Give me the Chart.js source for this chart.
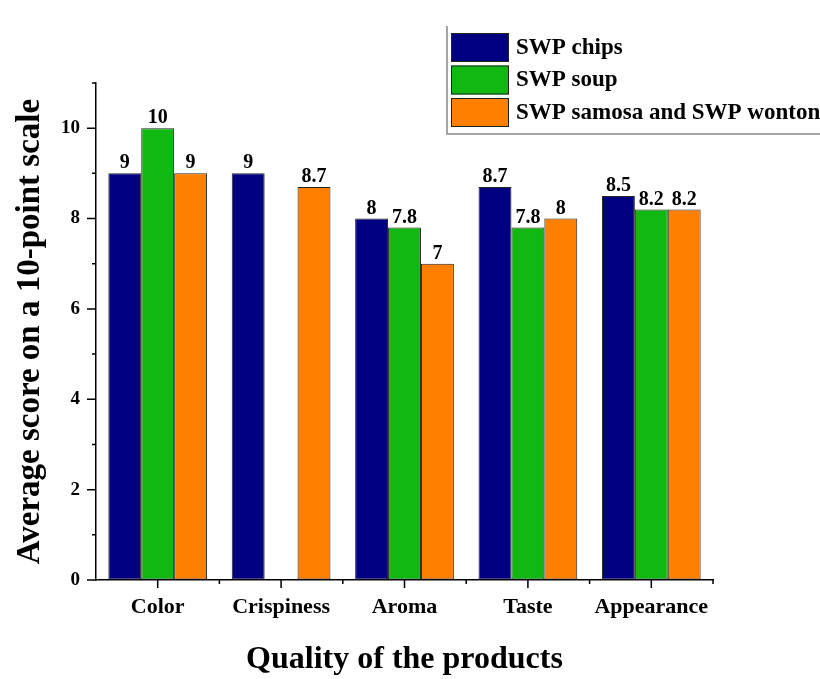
<!DOCTYPE html>
<html>
<head>
<meta charset="utf-8">
<script src="https://cdn.jsdelivr.net/npm/chart.js@4.4.0/dist/chart.umd.min.js"></script>
<style>
  html, body { margin: 0; padding: 0; background: #fff; }
  #wrap { width: 820px; height: 679px; }
</style>
</head>
<body>
<div id="wrap"><canvas id="qualityChart" width="820" height="679"></canvas></div>
<script>
var categories = ['Color', 'Crispiness', 'Aroma', 'Taste', 'Appearance'];
var chipsScores = [9, 9, 8, 8.7, 8.5];
var soupScores = [10, null, 7.8, 7.8, 8.2];
var samosaScores = [9, 8.7, 7, 8, 8.2];
var seriesNames = ['SWP chips', 'SWP soup', 'SWP samosa and SWP wonton'];
var yTicks = [0, 2, 4, 6, 8, 10];

var serif = "'Liberation Serif', 'Times New Roman', serif";
var colors = ['#000080', '#12b812', '#ff7f00'];

// value labels above each bar
var barLabels = {
	id: 'barLabels',
	afterDatasetsDraw: function(chart) {
		var ctx = chart.ctx;
		ctx.save();
		ctx.font = 'bold 20px ' + serif;
		ctx.fillStyle = '#000';
		ctx.textAlign = 'center';
		ctx.textBaseline = 'alphabetic';
		chart.data.datasets.forEach(function(ds, i) {
			var meta = chart.getDatasetMeta(i);
			meta.data.forEach(function(bar, j) {
				var v = ds.data[j];
				if (v === null) return;
				ctx.fillText(String(v), bar.x, bar.y - 5);
			});
		});
		ctx.restore();
	}
};

// axis ticks: long at majors, short at minors (outside)
var axisTicks = {
	id: 'axisTicks',
	afterDraw: function(chart) {
		var ctx = chart.ctx;
		var xs = chart.scales.x, ys = chart.scales.y;
		var left = chart.chartArea.left, bottom = chart.chartArea.bottom;
		ctx.save();
		ctx.strokeStyle = '#000';
		ctx.lineWidth = 1.5;
		ctx.beginPath();
		for (var v = 0; v <= 11; v++) {
			var py = ys.getPixelForValue(v);
			var len = (v % 2 === 0) ? 9 : 4;
			ctx.moveTo(left - len, py);
			ctx.lineTo(left, py);
		}
		for (var k = 0; k < categories.length; k++) {
			var px = xs.getPixelForValue(k);
			ctx.moveTo(px, bottom);
			ctx.lineTo(px, bottom + 8);
			var edge = xs.getPixelForValue(k + 0.5);
			ctx.moveTo(edge, bottom);
			ctx.lineTo(edge, bottom + 4);
		}
		ctx.stroke();
		ctx.restore();
	}
};

// legend box, partly cut at the right edge like the original
var boxLegend = {
	id: 'boxLegend',
	afterDraw: function(chart) {
		var ctx = chart.ctx;
		ctx.save();
		ctx.strokeStyle = '#888';
		ctx.lineWidth = 1.5;
		ctx.beginPath();
		ctx.moveTo(447, 26);
		ctx.lineTo(447, 134);
		ctx.lineTo(820, 134);
		ctx.stroke();
		ctx.font = 'bold 23px ' + serif;
		ctx.textBaseline = 'middle';
		ctx.textAlign = 'left';
		chart.data.datasets.forEach(function(ds, i) {
			var top = 33 + i * 32.5;
			ctx.fillStyle = ds.backgroundColor;
			ctx.fillRect(451, top, 58, 29);
			ctx.strokeStyle = '#222';
			ctx.lineWidth = 1;
			ctx.strokeRect(451.5, top + 0.5, 57, 28);
			ctx.fillStyle = '#000';
			ctx.fillText(ds.label, 516, top + 15);
		});
		ctx.restore();
	}
};

var qualityChart = new Chart(document.getElementById('qualityChart').getContext('2d'), {
	type: 'bar',
	data: {
		labels: categories,
		datasets: [
			{ label: seriesNames[0], data: chipsScores, backgroundColor: colors[0] },
			{ label: seriesNames[1], data: soupScores, backgroundColor: colors[1] },
			{ label: seriesNames[2], data: samosaScores, backgroundColor: colors[2] }
		]
	},
	options: {
		responsive: false,
		animation: false,
		layout: { padding: { top: 83, right: 107, left: 0, bottom: 0 } },
		datasets: {
			bar: {
				categoryPercentage: 0.8,
				barPercentage: 1.0,
				borderColor: '#222',
				borderWidth: 1,
				borderSkipped: false
			}
		},
		plugins: {
			legend: { display: false },
			tooltip: { enabled: false }
		},
		scales: {
			x: {
				grid: { display: true, drawOnChartArea: false, drawTicks: false },
				border: { display: true, color: '#000', width: 1.5 },
				ticks: {
					color: '#000',
					padding: 14,
					font: { family: serif, size: 22, weight: 'bold' }
				},
				title: {
					display: true,
					text: 'Quality of the products',
					color: '#000',
					font: { family: serif, size: 32, weight: 'bold' },
					padding: { top: 0, bottom: 0 }
				},
				afterFit: function(scale) { scale.height = 99; }
			},
			y: {
				min: 0,
				max: 11,
				grid: { display: true, drawOnChartArea: false, drawTicks: false },
				border: { display: true, color: '#000', width: 1.5 },
				ticks: {
					stepSize: 1,
					autoSkip: false,
					color: '#000',
					padding: 16,
					font: { family: serif, size: 19, weight: 'bold' },
					callback: function(value) {
						return yTicks.indexOf(value) >= 0 ? String(value) : '';
					}
				},
				title: {
					display: true,
					text: 'Average score on a 10-point scale',
					color: '#000',
					font: { family: serif, size: 33, weight: 'bold' },
					padding: { top: 11, bottom: 0 }
				},
				afterFit: function(scale) { scale.width = 96; }
			}
		}
	},
	plugins: [barLabels, axisTicks, boxLegend]
});
</script>
</body>
</html>
